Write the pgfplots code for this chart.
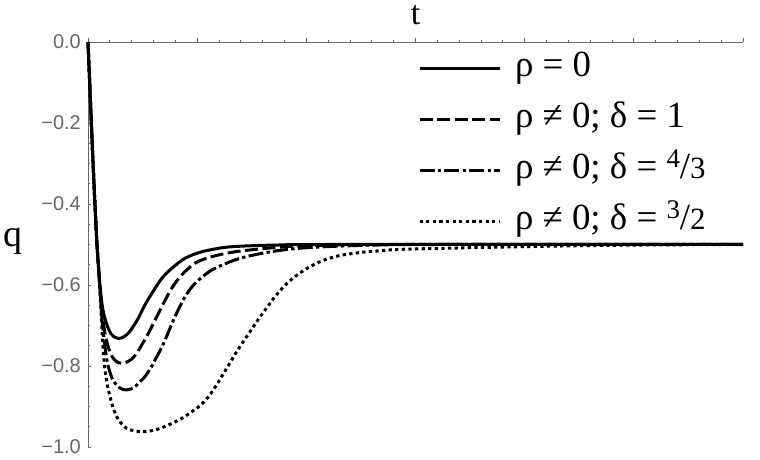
\documentclass[border=0pt]{standalone}
\usepackage{pgfplots}
\pgfplotsset{compat=1.18}
\usepackage{fontspec}
\setmainfont{Liberation Serif}
\newfontfamily\tickfont{Liberation Sans}
\definecolor{axgray}{gray}{0.4}
\newcommand{\fr}[2]{\raisebox{0.3em}{\fontsize{27}{27}\selectfont #1}/{\fontsize{31}{31}\selectfont #2}}
\newcommand{\tl}[1]{{\tickfont\fontsize{20}{20}\selectfont #1}}
\begin{document}
\begin{tikzpicture}
\useasboundingbox (-88bp,-13bp) rectangle (672bp,447bp);
\begin{axis}[
  scale only axis, width=655bp, height=405bp,
  xmin=0, xmax=6, ymin=-1, ymax=0,
  clip=false,
  axis x line*=top, axis y line*=left,
  axis line style={axgray, line width=0.8bp},
  xtick={0,1,2,3,4,5,6}, xticklabels={}, minor x tick num=4,
  ytick={-1,-0.8,-0.6,-0.4,-0.2,0},
  yticklabels={\tl{−1.0},\tl{−0.8},\tl{−0.6},\tl{−0.4},\tl{−0.2},\tl{0.0}},
  minor y tick num=3,
  major tick length=3.5bp, minor tick length=2bp,
  tick align=inside,
  tick style={axgray, line width=0.7bp},
  major x tick style={yshift=3.5bp},
  minor x tick style={yshift=2bp},
  yticklabel style={text=axgray, inner sep=0pt, anchor=east, xshift=-7bp},
  reverse legend,
  legend cell align=left,
  legend image code/.code={\draw[#1] (0bp,0bp) -- (80bp,0bp);},
  legend style={at={(axis cs:3.023,-0.02)}, anchor=north west, draw=none, fill=none,
    inner sep=0pt, outer sep=0pt, row sep=15bp, column sep=14bp,
    font=\fontsize{37}{37}\selectfont,
    nodes={inner sep=0pt, text height=26bp, text depth=10bp}},
]
% dotted: rho != 0, delta = 3/2
\addplot[black, line width=3bp, smooth, tension=0.5, dash pattern=on 3.3bp off 3.3bp] coordinates {
(0,0) (0.02,-0.13) (0.04,-0.26) (0.06,-0.38) (0.08,-0.49) (0.1,-0.57)
(0.115,-0.645) (0.13,-0.72) (0.14,-0.765) (0.156,-0.81) (0.18,-0.85) (0.202,-0.876)
(0.23,-0.903) (0.263,-0.925) (0.3,-0.94) (0.355,-0.954) (0.42,-0.96) (0.49,-0.962)
(0.55,-0.961) (0.614,-0.958) (0.69,-0.951) (0.767,-0.942) (0.86,-0.929) (0.95,-0.913)
(1.03,-0.897) (1.1,-0.877) (1.165,-0.852) (1.225,-0.826) (1.29,-0.797) (1.347,-0.771)
(1.415,-0.743) (1.485,-0.715) (1.56,-0.685) (1.638,-0.656) (1.715,-0.628) (1.79,-0.605)
(1.865,-0.586) (1.943,-0.57) (2.02,-0.557) (2.096,-0.546) (2.2,-0.535) (2.31,-0.527)
(2.43,-0.522) (2.554,-0.518) (2.7,-0.515) (2.86,-0.512) (3.32,-0.509) (3.87,-0.506)
(4.5,-0.503) (5.2,-0.501) (6,-0.5)
};
\addlegendentry{ρ ≠ 0; δ = \fr{3}{2}}
% dash-dot: delta = 4/3
\addplot[black, line width=3bp, smooth, tension=0.5, dash pattern=on 15bp off 3.3bp on 3.3bp off 3.3bp] coordinates {
(0,0) (0.02,-0.13) (0.04,-0.26) (0.06,-0.38) (0.08,-0.49) (0.1,-0.57)
(0.115,-0.632) (0.13,-0.69) (0.15,-0.74) (0.17,-0.78) (0.19,-0.805) (0.217,-0.828)
(0.247,-0.842) (0.29,-0.854) (0.34,-0.859) (0.39,-0.857) (0.431,-0.851) (0.48,-0.838)
(0.522,-0.826) (0.57,-0.807) (0.614,-0.785) (0.66,-0.762) (0.706,-0.736) (0.797,-0.678)
(0.889,-0.629) (0.981,-0.596) (1.134,-0.563) (1.347,-0.538) (1.5,-0.527) (1.65,-0.519)
(1.8,-0.513) (2.0,-0.508) (2.3,-0.504) (2.7,-0.501) (3.2,-0.5) (6,-0.5)
};
\addlegendentry{ρ ≠ 0; δ = \fr{4}{3}}
% dashed: delta = 1
\addplot[black, line width=3bp, smooth, tension=0.5, dash pattern=on 13bp off 4.5bp] coordinates {
(0,0) (0.02,-0.13) (0.04,-0.26) (0.06,-0.38) (0.08,-0.49) (0.1,-0.57)
(0.115,-0.625) (0.13,-0.67) (0.15,-0.71) (0.17,-0.738) (0.19,-0.757) (0.217,-0.775)
(0.247,-0.786) (0.28,-0.792) (0.309,-0.793) (0.35,-0.791) (0.4,-0.783) (0.45,-0.767)
(0.492,-0.748) (0.54,-0.726) (0.584,-0.703) (0.675,-0.654) (0.767,-0.608) (0.859,-0.575)
(0.981,-0.546) (1.134,-0.53) (1.347,-0.518) (1.65,-0.509) (1.9,-0.504) (2.3,-0.501)
(2.8,-0.5) (6,-0.5)
};
\addlegendentry{ρ ≠ 0; δ = 1}
% solid: rho = 0
\addplot[black, line width=3bp, smooth, tension=0.5] coordinates {
(0,0) (0.02,-0.13) (0.04,-0.26) (0.06,-0.38) (0.08,-0.49) (0.1,-0.57)
(0.115,-0.615) (0.13,-0.65) (0.15,-0.678) (0.18,-0.703) (0.21,-0.72) (0.245,-0.729)
(0.278,-0.732) (0.32,-0.729) (0.37,-0.719) (0.42,-0.7) (0.461,-0.682) (0.522,-0.649)
(0.584,-0.621) (0.675,-0.584) (0.767,-0.559) (0.889,-0.534) (1.042,-0.518) (1.256,-0.507)
(1.5,-0.503) (1.8,-0.501) (2.2,-0.5) (6,-0.5)
};
\addlegendentry{ρ = 0}
\node[anchor=base, inner sep=0pt, font=\fontsize{34}{34}\selectfont] at (axis description cs:0.5,1) [yshift=17bp] {t};
\node[anchor=base west, inner sep=0pt, font=\fontsize{38}{38}\selectfont] at (axis description cs:0,0.494) [xshift=-84.7bp] {q};
\end{axis}
\end{tikzpicture}
\end{document}
